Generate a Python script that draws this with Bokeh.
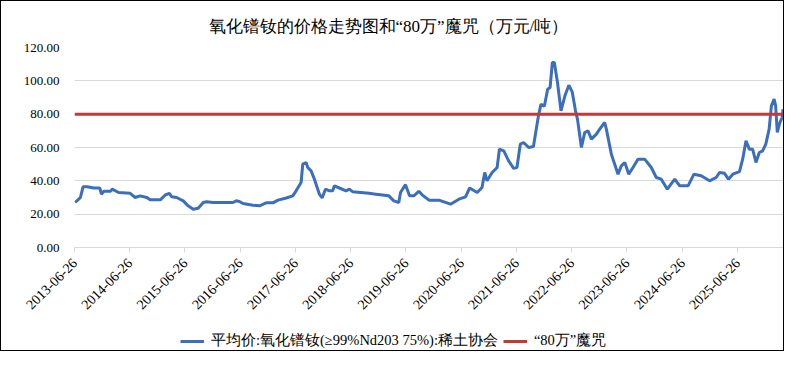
import pandas as pd
from math import pi
from bokeh.plotting import figure
from bokeh.layouts import column
from bokeh.models import (FixedTicker, DatetimeTickFormatter, PrintfTickFormatter,
                          Legend, LegendItem, Range1d)
from bokeh.embed import file_html
from bokeh.resources import INLINE

title_text = "氧化镨钕的价格走势图和“80万”魔咒（万元/吨）"
series_name = "平均价:氧化镨钕(≥99%Nd203 75%):稀土协会"
curse_name = "“80万”魔咒"
curse_level = 80

dates = [
    "2013-06-30", "2013-07-24", "2013-08-04", "2013-08-22", "2013-09-18", "2013-10-31",
    "2013-12-10", "2013-12-21", "2014-01-06", "2014-02-19", "2014-03-02", "2014-04-14",
    "2014-06-29", "2014-08-01", "2014-09-03", "2014-10-17", "2014-11-08", "2015-01-14",
    "2015-02-16", "2015-03-15", "2015-03-30", "2015-05-02", "2015-06-15", "2015-07-17",
    "2015-08-20", "2015-09-22", "2015-10-25", "2015-11-16", "2015-12-29", "2016-05-08",
    "2016-05-30", "2016-06-20", "2016-07-14", "2016-09-18", "2016-11-01", "2016-12-04",
    "2016-12-15", "2017-01-28", "2017-03-02", "2017-04-26", "2017-06-08", "2017-06-30",
    "2017-08-02", "2017-08-13", "2017-09-04", "2017-09-15", "2017-10-07", "2017-10-29",
    "2017-12-01", "2017-12-19", "2018-01-10", "2018-02-05", "2018-02-27", "2018-03-10",
    "2018-04-12", "2018-05-26", "2018-06-17", "2018-07-08", "2018-10-26", "2018-12-09",
    "2019-03-05", "2019-04-07", "2019-05-10", "2019-05-21", "2019-06-23", "2019-07-20",
    "2019-08-17", "2019-09-19", "2019-10-11", "2019-11-25", "2020-01-30", "2020-04-16",
    "2020-06-10", "2020-07-24", "2020-08-20", "2020-10-09", "2020-11-10", "2020-11-28",
    "2020-12-13", "2021-01-16", "2021-02-18", "2021-03-05", "2021-04-03", "2021-05-05",
    "2021-06-07", "2021-06-29", "2021-07-21", "2021-08-12", "2021-09-14", "2021-10-16",
    "2021-11-18", "2021-12-05", "2021-12-27", "2022-01-18", "2022-02-03", "2022-02-18",
    "2022-03-03", "2022-03-24", "2022-04-16", "2022-05-12", "2022-06-07", "2022-06-29",
    "2022-07-21", "2022-08-03", "2022-08-29", "2022-09-20", "2022-10-12", "2022-11-03",
    "2022-12-06", "2022-12-28", "2023-01-30", "2023-02-10", "2023-03-15", "2023-04-28",
    "2023-05-20", "2023-06-12", "2023-07-08", "2023-08-05", "2023-09-07", "2023-10-21",
    "2023-12-04", "2024-01-06", "2024-02-08", "2024-03-19", "2024-05-07", "2024-06-09",
    "2024-08-03", "2024-09-11", "2024-10-29", "2024-12-23", "2025-02-05", "2025-02-27",
    "2025-04-01", "2025-04-27", "2025-05-26", "2025-07-09", "2025-07-30", "2025-08-21",
    "2025-09-12", "2025-10-04", "2025-10-26", "2025-11-17", "2025-12-09", "2025-12-30",
    "2026-01-21", "2026-02-05", "2026-02-23", "2026-03-05", "2026-03-16", "2026-04-02",
    "2026-04-17", "2026-04-23",
]
prices = [
    27.0, 29.0, 30.0, 36.5, 36.5, 35.7,
    35.7, 32.0, 33.7, 33.7, 35.0, 33.0,
    32.5, 30.0, 31.0, 30.0, 28.6, 28.6,
    31.5, 32.5, 30.5, 30.0, 28.0, 25.0,
    23.0, 23.6, 27.0, 27.4, 27.0, 27.0,
    28.0, 27.6, 26.4, 25.4, 25.0, 26.4,
    26.8, 26.8, 28.4, 29.7, 31.0, 34.0,
    39.0, 50.0, 51.0, 48.0, 46.0, 41.0,
    32.0, 29.7, 35.0, 34.0, 34.0, 37.0,
    35.7, 34.0, 35.0, 33.5, 32.5, 32.0,
    31.0, 28.0, 27.0, 33.0, 37.7, 31.0,
    31.0, 33.7, 31.6, 28.4, 28.4, 26.0,
    29.0, 30.4, 35.7, 33.0, 36.0, 45.0,
    40.0, 45.0, 48.0, 59.0, 58.0, 52.0,
    47.5, 48.0, 62.0, 63.0, 60.0, 60.6,
    79.0, 86.0, 84.7, 95.0, 96.0, 111.0,
    111.0, 99.0, 82.0, 91.0, 97.4, 93.4,
    82.0, 77.0, 60.0, 69.0, 70.0, 65.0,
    68.0, 71.0, 75.0, 71.0, 56.0, 44.0,
    49.0, 51.0, 44.0, 48.0, 53.0, 53.0,
    48.0, 42.0, 41.0, 35.0, 41.0, 37.0,
    37.0, 44.0, 43.0, 40.0, 42.0, 45.0,
    44.5, 41.0, 44.0, 45.5, 53.0, 64.0,
    59.0, 59.0, 51.0, 57.0, 58.0, 62.0,
    71.0, 85.0, 89.0, 85.0, 69.0, 75.0,
    78.0, 83.0,
]
tick_dates = ["2013-06-26", "2014-06-26", "2015-06-26", "2016-06-26", "2017-06-26",
              "2018-06-26", "2019-06-26", "2020-06-26", "2021-06-26", "2022-06-26",
              "2023-06-26", "2024-06-26", "2025-06-26"]
y_ticks = [0, 20, 40, 60, 80, 100, 120]
x_start, x_end = "2013-06-26", "2026-04-26"

blue = "#3B6FBE"
red = "#C33A35"
serif = "Liberation Serif"

xs = pd.to_datetime(dates)
x0, x1 = pd.Timestamp(x_start), pd.Timestamp(x_end)

p = figure(width=782, height=322, x_axis_type="datetime",
           x_range=Range1d(x0, x1), y_range=Range1d(y_ticks[0], y_ticks[-1]),
           output_backend="svg", toolbar_location=None,
           min_border_left=73, min_border_right=0, min_border_top=46, min_border_bottom=76)
p.outline_line_color = None
p.background_fill_color = "white"
p.border_fill_color = "white"

p.title.text = title_text
p.title.align = "left"
p.title.offset = 134
p.title.text_font = serif
p.title.text_font_size = "17px"
p.title.text_font_style = "normal"
p.title.text_color = "#000000"
p.title.standoff = 24

r_price = p.line(xs, prices, line_color=blue, line_width=3)
r_curse = p.line([x0, x1], [curse_level, curse_level], line_color=red, line_width=3)

# x axis
xa = p.xaxis[0]
xa.ticker = FixedTicker(ticks=[pd.Timestamp(d).timestamp() * 1000 for d in tick_dates])
xa.formatter = DatetimeTickFormatter(days="%Y-%m-%d", months="%Y-%m-%d", years="%Y-%m-%d")
xa.major_label_orientation = pi / 4
xa.axis_line_color = "#D9D9D9"
xa.major_tick_line_color = "#D9D9D9"
xa.major_tick_out = 5
xa.major_tick_in = 0
xa.minor_tick_line_color = None
xa.major_label_text_font = serif
xa.major_label_text_font_size = "14px"
xa.major_label_text_color = "#000000"
xa.major_label_standoff = 8

ya = p.yaxis[0]
ya.ticker = FixedTicker(ticks=y_ticks)
ya.formatter = PrintfTickFormatter(format="%.2f")
ya.axis_line_color = None
ya.major_tick_line_color = None
ya.minor_tick_line_color = None
ya.major_label_text_font = serif
ya.major_label_text_font_size = "13px"
ya.major_label_text_color = "#000000"
ya.major_label_standoff = 9

p.xgrid.grid_line_color = None
p.ygrid.grid_line_color = "#D9D9D9"
p.ygrid.ticker = FixedTicker(ticks=y_ticks)

# legend strip below the chart (its own copies of the two series lie outside its view)
pl = figure(width=782, height=27, x_range=Range1d(0, 1), y_range=Range1d(0, 1),
            output_backend="svg", toolbar_location=None,
            x_axis_location=None, y_axis_location=None,
            min_border_left=0, min_border_right=0, min_border_top=0, min_border_bottom=0)
pl.outline_line_color = None
pl.xgrid.visible = False
pl.ygrid.visible = False
lg_price = pl.line(xs, prices, line_color=blue, line_width=3)
lg_curse = pl.line([x0, x1], [curse_level, curse_level], line_color=red, line_width=3)
legend = Legend(items=[LegendItem(label=series_name, renderers=[lg_price]),
                       LegendItem(label=curse_name, renderers=[lg_curse])],
                orientation="horizontal", location=(106, 0),
                label_text_font=serif, label_text_font_size="14.5px",
                label_text_color="#000000", glyph_width=24, glyph_height=16,
                label_standoff=7, spacing=5, border_line_color=None,
                background_fill_alpha=0, margin=0, padding=2)
pl.add_layout(legend, "center")

layout = column(p, pl, spacing=0)
layout.styles = {"border": "1px solid #000000"}

open("out.html", "w").write(file_html(layout, INLINE))
